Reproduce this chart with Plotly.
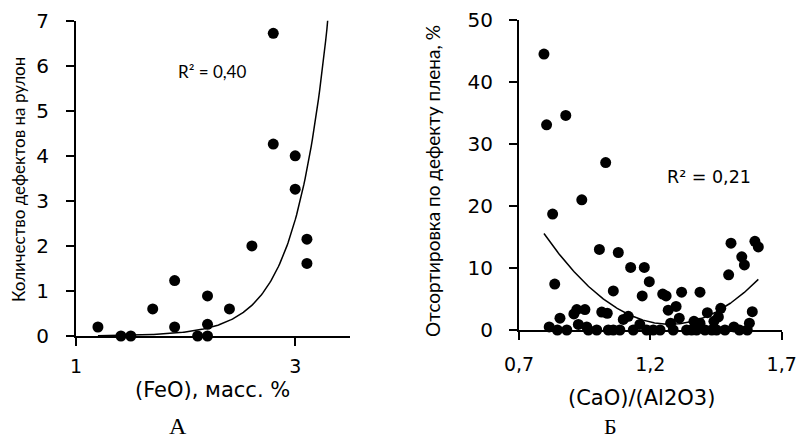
import numpy as np
import plotly.graph_objects as go

# ---- Panel A data ----
feo = [1.2, 1.41, 1.50, 1.70, 1.90, 1.90, 2.11, 2.20, 2.20, 2.20, 2.40, 2.605, 2.80, 2.80, 3.0, 3.0, 3.107, 3.107]
defects = [0.2, 0.0, 0.0, 0.6, 1.23, 0.2, 0.0, 0.0, 0.26, 0.89, 0.6, 2.0, 4.26, 6.72, 4.0, 3.26, 2.15, 1.61]
# exponential trend y = a*exp(b*x)
trend_a_A = 1.08e-4
trend_b_A = 3.36
trend_x_A = [1.2, 3.4]

# ---- Panel B data ----
ratio = [0.795, 0.805, 0.878, 1.03, 0.939, 0.828, 0.836, 1.006, 1.078, 1.125, 1.177, 1.196, 1.169, 1.059,
         1.247, 1.26, 1.319, 1.389, 1.498, 1.507, 1.548, 1.558, 1.598, 1.611, 1.588, 1.577,
         0.815, 0.856, 0.846, 0.882, 0.909, 0.92, 0.951, 0.926, 0.958, 0.964, 0.996, 1.015, 1.036,
         1.04, 1.059, 1.084, 1.097, 1.116, 1.135, 1.16, 1.186, 1.211, 1.237, 1.268, 1.298, 1.277,
         1.287, 1.31, 1.338, 1.357, 1.376, 1.366, 1.389, 1.417, 1.408, 1.434, 1.442, 1.459, 1.468,
         1.452, 1.484, 1.518, 1.539, 1.569]
sorting = [44.5, 33.1, 34.6, 27.0, 21.0, 18.7, 7.4, 13.0, 12.5, 10.1, 10.1, 7.8, 5.5, 6.3,
           5.8, 5.5, 6.1, 6.1, 8.9, 14.0, 11.8, 10.5, 14.3, 13.4, 2.95, 1.1,
           0.5, 1.9, 0.0, 0.0, 2.6, 3.3, 3.3, 0.9, 0.5, 0.0, 0.0, 2.9, 2.7,
           0.0, 0.0, 0.0, 1.7, 2.2, 0.0, 0.9, 0.0, 0.0, 0.0, 3.2, 3.8, 1.1,
           0.0, 1.9, 0.0, 0.0, 0.0, 1.4, 1.1, 2.8, 0.0, 0.0, 1.4, 2.1, 3.5,
           0.0, 0.0, 0.5, 0.0, 0.0]
# quadratic trend y = c0 + c1*(x-1.2) + c2*(x-1.2)^2
trend_c_B = [1.28, -9.45, 63.8]
trend_x_B = [0.795, 1.611]

W, H = 799, 441
FONT = "Lato"
WIDE = "DejaVu Sans"
BLACK = "#000000"

xa = np.linspace(trend_x_A[0], trend_x_A[1], 200)
ya = trend_a_A * np.exp(trend_b_A * xa)
xb = np.linspace(trend_x_B[0], trend_x_B[1], 200)
tb = xb - 1.2
yb = trend_c_B[0] + trend_c_B[1] * tb + trend_c_B[2] * tb ** 2

fig = go.Figure()
fig.add_trace(go.Scatter(x=xa, y=ya, mode="lines", line=dict(color=BLACK, width=1.5),
                         xaxis="x", yaxis="y", cliponaxis=True, hoverinfo="skip"))
fig.add_trace(go.Scatter(x=feo, y=defects, mode="markers", marker=dict(color=BLACK, size=11),
                         xaxis="x", yaxis="y", cliponaxis=False))
fig.add_trace(go.Scatter(x=xb, y=yb, mode="lines", line=dict(color=BLACK, width=1.5),
                         xaxis="x2", yaxis="y2", cliponaxis=True, hoverinfo="skip"))
fig.add_trace(go.Scatter(x=ratio, y=sorting, mode="markers", marker=dict(color=BLACK, size=11),
                         xaxis="x2", yaxis="y2", cliponaxis=False))

axis_common = dict(showline=True, linecolor=BLACK, linewidth=2, ticks="outside", ticklen=8,
                   tickwidth=2, tickcolor=BLACK, showgrid=False, zeroline=False, automargin=False)
xtickfont = dict(family=WIDE, size=19, color=BLACK)
ytickfont = dict(family=WIDE, size=20, color=BLACK)

fig.update_layout(
    template="none",
    width=W, height=H, margin=dict(l=0, r=0, t=0, b=0, autoexpand=False),
    paper_bgcolor="white", plot_bgcolor="white", showlegend=False,
    xaxis=dict(domain=[76 / W, 350 / W], range=[1, 3.5], tickvals=[1, 3], ticktext=["1", "3"],
               anchor="y", ticklabelstandoff=4, tickfont=xtickfont, **axis_common),
    yaxis=dict(domain=[1 - 336 / H, 1 - 20.7 / H], range=[0, 7], dtick=1,
               anchor="x", ticklabelstandoff=13, tickfont=ytickfont, **axis_common),
    xaxis2=dict(domain=[519 / W, 781.7 / W], range=[0.7, 1.7], tickvals=[0.7, 1.2, 1.7],
                ticktext=["0,7", "1,2", "1,7"], anchor="y2", ticklabelstandoff=8,
                tickfont=xtickfont, **axis_common),
    yaxis2=dict(domain=[1 - 330 / H, 1 - 20 / H], range=[0, 50], dtick=10,
                anchor="x2", ticklabelstandoff=12, tickfont=ytickfont, **axis_common),
)

def ann(text, x, y, size=17, family=FONT, angle=0):
    fig.add_annotation(text=text, x=x / W, y=1 - y / H, xref="paper", yref="paper",
                       showarrow=False, xanchor="center", yanchor="middle", textangle=angle,
                       font=dict(family=family, size=size, color=BLACK))

ann("Количество дефектов на рулон", 18, 180, size=17, angle=-90)
ann("Отсортировка по дефекту плена, %", 433, 181, size=19, angle=-90)
ann("(FeO), масс. %", 212.5, 390, size=21, family=WIDE)
ann("(CaO)/(Al2O3)", 641, 398, size=21, family=WIDE)
ann("R² = 0,40", 212, 71, size=17)
ann("R² = 0,21", 709, 177, size=17.5, family=WIDE)
ann("А", 178, 426, size=24, family="Liberation Serif")
ann("Б", 610, 426, size=22, family="Liberation Serif")

fig.write_html("out.html", config={"displayModeBar": False},
               post_script="document.body.style.margin='0';document.body.style.overflow='hidden';")
